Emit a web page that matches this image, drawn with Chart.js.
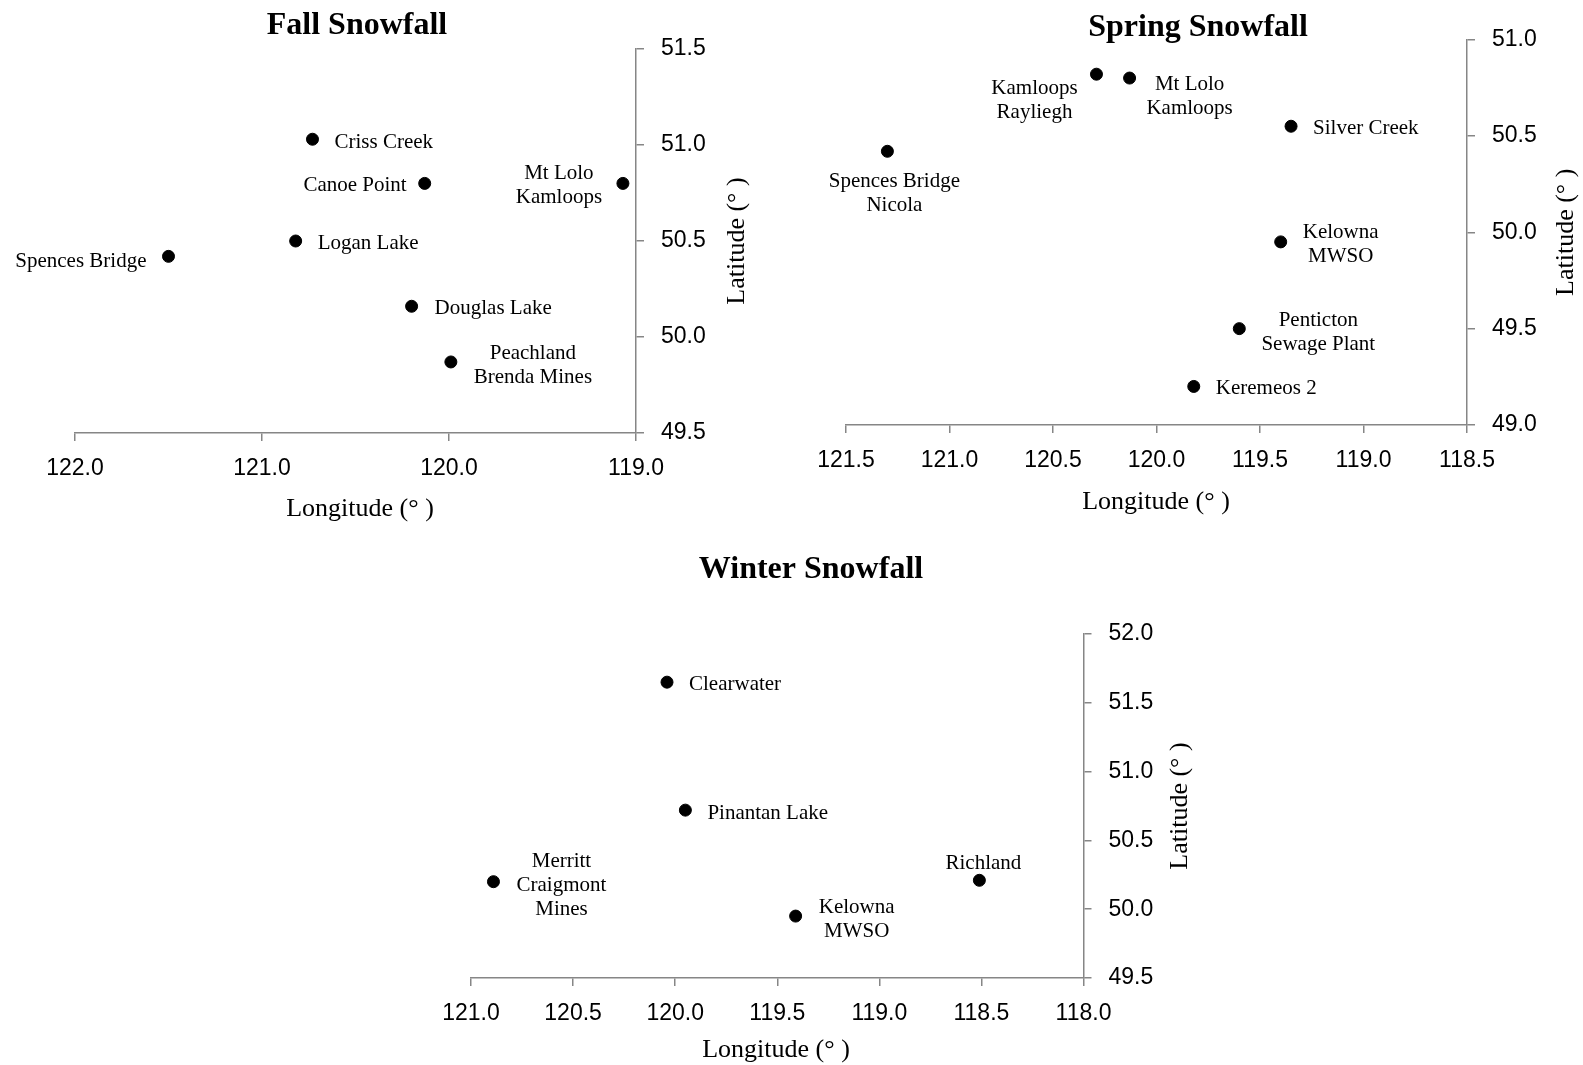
<!DOCTYPE html>
<html>
<head>
<meta charset="utf-8">
<title>Fall, Spring and Winter Snowfall</title>
<script src="https://cdn.jsdelivr.net/npm/chart.js@4.4.1/dist/chart.umd.min.js"></script>
<style>
  body { margin: 0; background: #fff; }
  #wrap { position: relative; width: 1583px; height: 1065px; }
  #wrap canvas { position: absolute; left: 0; top: 0; }
</style>
</head>
<body>
<div id="wrap">
  <canvas id="fallChart" width="1583" height="1065"></canvas>
  <canvas id="springChart" width="1583" height="1065"></canvas>
  <canvas id="winterChart" width="1583" height="1065"></canvas>
</div>
<script>
// station data (longitude in degrees W, latitude in degrees N)
var fallStations = ['Criss Creek', 'Canoe Point', 'Mt Lolo\nKamloops', 'Logan Lake', 'Spences Bridge', 'Douglas Lake', 'Peachland\nBrenda Mines'];
var fallLon = [120.73, 120.13, 119.07, 120.82, 121.50, 120.20, 119.99];
var fallLat = [51.03, 50.80, 50.80, 50.50, 50.42, 50.16, 49.87];
var fallLonTicks = [122.0, 121.0, 120.0, 119.0];
var fallLatTicks = [49.5, 50.0, 50.5, 51.0, 51.5];

var springStations = ['Kamloops\nRayliegh', 'Mt Lolo\nKamloops', 'Silver Creek', 'Spences Bridge\nNicola', 'Kelowna\nMWSO', 'Penticton\nSewage Plant', 'Keremeos 2'];
var springLon = [120.29, 120.13, 119.35, 121.30, 119.40, 119.60, 119.82];
var springLat = [50.82, 50.80, 50.55, 50.42, 49.95, 49.50, 49.20];
var springLonTicks = [121.5, 121.0, 120.5, 120.0, 119.5, 119.0, 118.5];
var springLatTicks = [49.0, 49.5, 50.0, 50.5, 51.0];

var winterStations = ['Clearwater', 'Pinantan Lake', 'Merritt\nCraigmont\nMines', 'Kelowna\nMWSO', 'Richland'];
var winterLon = [120.04, 119.95, 120.89, 119.41, 118.51];
var winterLat = [51.65, 50.72, 50.20, 49.95, 50.21];
var winterLonTicks = [121.0, 120.5, 120.0, 119.5, 119.0, 118.5, 118.0];
var winterLatTicks = [49.5, 50.0, 50.5, 51.0, 51.5, 52.0];

// where each station name sits next to its dot: [align, dx, dy]
var fallLabelPos = [['left', 22, 3], ['right', -18, 2.5], ['center', -64, 2.5], ['left', 22, 2.5], ['right', -22, 5.5], ['left', 23, 2.5], ['center', 82, 3.5]];
var springLabelPos = [['center', -62, 26.5], ['center', 60, 18.5], ['left', 22, 2.5], ['center', 7, 42.5], ['center', 60, 2.5], ['center', 79, 3.5], ['left', 22, 2.5]];
var winterLabelPos = [['left', 22, 2.5], ['left', 22, 3.5], ['center', 68, 3.5], ['center', 61, 3.5], ['center', 4, -16.5]];

var AXIS = '#868686';
var SERIF = '"Liberation Serif", "Times New Roman", serif';
var SANS = '"Liberation Sans", Arial, sans-serif';

function makeDecor(cfg) {
	return {
		id: 'decor',
		afterDraw: function (chart) {
			var ctx = chart.ctx;
			var a = chart.chartArea;
			ctx.save();
			ctx.fillStyle = '#000';
			// chart title
			ctx.font = 'bold 32px ' + SERIF;
			ctx.textAlign = 'center';
			ctx.textBaseline = 'middle';
			ctx.fillText(cfg.title, cfg.titleX, cfg.titleY);
			// axis titles
			ctx.font = '26px ' + SERIF;
			ctx.fillText('Longitude (° )', cfg.xTitleX, cfg.xTitleY);
			ctx.save();
			ctx.translate(cfg.yTitleX, (a.top + a.bottom) / 2);
			ctx.rotate(-Math.PI / 2);
			ctx.fillText('Latitude (° )', 0, 0);
			ctx.restore();
			// station names
			ctx.font = '21px ' + SERIF;
			var pts = chart.getDatasetMeta(0).data;
			pts.forEach(function (p, i) {
				var lines = cfg.names[i].split('\n');
				var pos = cfg.labelPos[i];
				ctx.textAlign = pos[0];
				var y0 = p.y + pos[2] - (lines.length - 1) * 24 / 2;
				lines.forEach(function (line, j) {
					ctx.fillText(line, p.x + pos[1], y0 + j * 24);
				});
			});
			ctx.restore();
		}
	};
}

function makeChart(id, names, lon, lat, lonTicks, latTicks, area, cfg) {
	var Y_W = 110, X_H = 70;
	cfg.names = names;
	var points = lon.map(function (v, i) { return { x: v, y: lat[i] }; });
	var fmt = function (v) { return Number(v).toFixed(1); };
	new Chart(document.getElementById(id), {
		type: 'scatter',
		data: {
			datasets: [{
				data: points,
				backgroundColor: '#000',
				borderColor: '#000',
				pointRadius: 6,
				pointHoverRadius: 6
			}]
		},
		options: {
			responsive: false,
			animation: false,
			events: [],
			layout: {
				padding: { left: area.left, top: area.top, right: 1583 - area.right - Y_W, bottom: 1065 - area.bottom - X_H }
			},
			plugins: { legend: { display: false }, tooltip: { enabled: false } },
			scales: {
				x: {
					type: 'linear',
					position: 'bottom',
					reverse: true,
					min: Math.min.apply(null, lonTicks),
					max: Math.max.apply(null, lonTicks),
					ticks: { stepSize: Math.abs(lonTicks[1] - lonTicks[0]), callback: fmt, color: '#000', font: { family: SANS, size: 23 }, padding: 14, maxRotation: 0, autoSkip: false },
					grid: { drawOnChartArea: false, tickLength: 8, color: AXIS, lineWidth: 1.5 },
					border: { color: AXIS, width: 1.5 },
					afterFit: function (s) { s.height = X_H; }
				},
				y: {
					type: 'linear',
					position: 'right',
					min: Math.min.apply(null, latTicks),
					max: Math.max.apply(null, latTicks),
					ticks: { stepSize: Math.abs(latTicks[1] - latTicks[0]), callback: fmt, color: '#000', font: { family: SANS, size: 23 }, padding: 17, autoSkip: false },
					grid: { drawOnChartArea: false, tickLength: 8, color: AXIS, lineWidth: 1.5 },
					border: { color: AXIS, width: 1.5 },
					afterFit: function (s) { s.width = Y_W; }
				}
			}
		},
		plugins: [makeDecor(cfg)]
	});
}

makeChart('fallChart', fallStations, fallLon, fallLat, fallLonTicks, fallLatTicks,
	{ left: 75, top: 49, right: 636, bottom: 433 },
	{ title: 'Fall Snowfall', titleX: 357, titleY: 26, xTitleX: 360, xTitleY: 509, yTitleX: 737, labelPos: fallLabelPos });

makeChart('springChart', springStations, springLon, springLat, springLonTicks, springLatTicks,
	{ left: 846, top: 39.5, right: 1467, bottom: 425 },
	{ title: 'Spring Snowfall', titleX: 1198, titleY: 28, xTitleX: 1156, xTitleY: 502, yTitleX: 1566, labelPos: springLabelPos });

makeChart('winterChart', winterStations, winterLon, winterLat, winterLonTicks, winterLatTicks,
	{ left: 471, top: 634, right: 1083.5, bottom: 978 },
	{ title: 'Winter Snowfall', titleX: 811, titleY: 569.5, xTitleX: 776, xTitleY: 1050, yTitleX: 1180, labelPos: winterLabelPos });
</script>
</body>
</html>
